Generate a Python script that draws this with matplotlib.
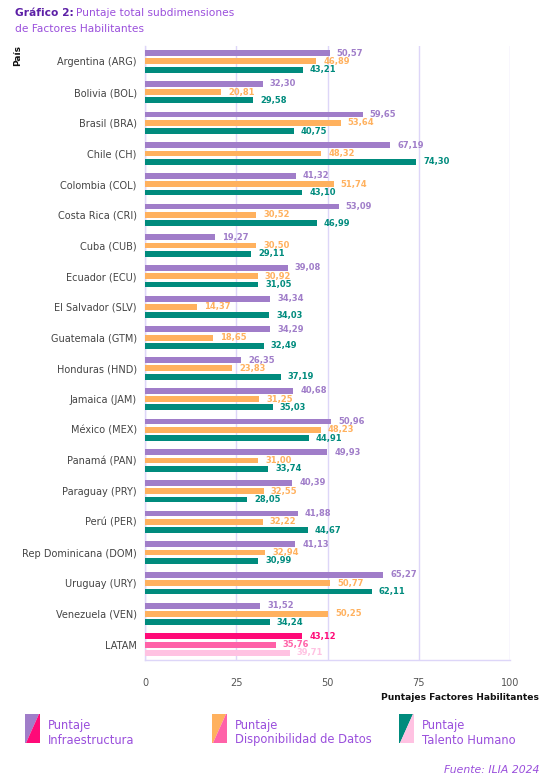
import matplotlib
matplotlib.use('Agg')
import matplotlib.pyplot as plt
from matplotlib.patches import Polygon

# данные графика
paises = ['Argentina (ARG)', 'Bolivia (BOL)', 'Brasil (BRA)', 'Chile (CH)', 'Colombia (COL)',
          'Costa Rica (CRI)', 'Cuba (CUB)', 'Ecuador (ECU)', 'El Salvador (SLV)', 'Guatemala (GTM)',
          'Honduras (HND)', 'Jamaica (JAM)', 'México (MEX)', 'Panamá (PAN)', 'Paraguay (PRY)',
          'Perú (PER)', 'Rep Dominicana (DOM)', 'Uruguay (URY)', 'Venezuela (VEN)', 'LATAM']
infraestructura = [50.57, 32.30, 59.65, 67.19, 41.32, 53.09, 19.27, 39.08, 34.34, 34.29,
                   26.35, 40.68, 50.96, 49.93, 40.39, 41.88, 41.13, 65.27, 31.52, 43.12]
datos = [46.89, 20.81, 53.64, 48.32, 51.74, 30.52, 30.50, 30.92, 14.37, 18.65,
         23.83, 31.25, 48.23, 31.00, 32.55, 32.22, 32.94, 50.77, 50.25, 35.76]
talento = [43.21, 29.58, 40.75, 74.30, 43.10, 46.99, 29.11, 31.05, 34.03, 32.49,
           37.19, 35.03, 44.91, 33.74, 28.05, 44.67, 30.99, 62.11, 34.24, 39.71]
xticks = [0, 25, 50, 75, 100]
series = ['Infraestructura', 'Disponibilidad de Datos', 'Talento Humano']

# цвета
colores = ['#a07dc9', '#ffb15e', '#008b7d']
colores_latam = ['#ff0a78', '#ff62a8', '#ffc2e2']
color_grid = '#ddd6f8'
color_morado = '#9a4fdc'

W, H = 553, 778
fig = plt.figure(figsize=(W / 100, H / 100), dpi=100)
ax = fig.add_axes([145 / W, 1 - 660 / H, 365 / W, 614 / H])

offsets = [-0.27, 0, 0.27]
alto = 0.19
valores = [infraestructura, datos, talento]
for s in range(3):
    for i, v in enumerate(valores[s]):
        c = colores_latam[s] if paises[i] == 'LATAM' else colores[s]
        ax.barh(i + offsets[s], v, height=alto, color=c, zorder=3)
        ax.annotate(f'{v:.2f}'.replace('.', ','), xy=(v, i + offsets[s]), xytext=(5, 0),
                    textcoords='offset points', va='center', ha='left',
                    fontsize=6, fontweight='bold', color=c, zorder=4)

ax.set_xlim(0, 100)
ax.set_ylim(19.5, -0.5)
ax.set_yticks(range(len(paises)))
ax.set_yticklabels(paises, fontsize=7, color='#444444')
ax.set_xticks(xticks)
ax.set_xticklabels([str(t) for t in xticks], fontsize=7, color='#555555')
ax.tick_params(axis='both', length=0)
ax.tick_params(axis='y', pad=6)
ax.tick_params(axis='x', pad=13)
ax.grid(axis='x', color=color_grid, linewidth=1, zorder=0)
for lado in ['top', 'right']:
    ax.spines[lado].set_visible(False)
for lado in ['left', 'bottom']:
    ax.spines[lado].set_color(color_grid)
    ax.spines[lado].set_linewidth(1)

# título en dos partes
t1 = fig.text(15 / W, 1 - 12.5 / H, 'Gráfico 2:', fontsize=7.7, fontweight='bold',
              color='#5c1fa6', va='center')
fig.canvas.draw()
bb = t1.get_window_extent()
fig.text(bb.x1 / W + 0.004, 1 - 12.5 / H, 'Puntaje total subdimensiones', fontsize=7.7,
         color=color_morado, va='center')
fig.text(15 / W, 1 - 29 / H, 'de Factores Habilitantes', fontsize=7.7,
         color=color_morado, va='center')

fig.text(18 / W, 1 - 55 / H, 'País', rotation=90, fontsize=6.5, fontweight='bold',
         color='#111111', ha='center', va='center')
fig.text(539 / W, 1 - 698 / H, 'Puntajes Factores Habilitantes', fontsize=6.6,
         fontweight='bold', color='#111111', ha='right', va='center')

# leyenda con cuadrados divididos en diagonal
for k in range(3):
    x0 = 25 + 187 * k
    x1 = x0 + 15
    y0, y1 = 714, 743
    arriba = [(x0, y0), (x1 - 1, y0), (x0 + 1, y1), (x0, y1)]
    abajo = [(x1 - 1, y0), (x1, y0), (x1, y1), (x0 + 1, y1)]
    for pts, c in [(arriba, colores[k]), (abajo, colores_latam[k])]:
        fig.add_artist(Polygon([(px / W, 1 - py / H) for px, py in pts], closed=True,
                               facecolor=c, edgecolor='none', transform=fig.transFigure))
    fig.text((x1 + 8) / W, 1 - 725 / H, 'Puntaje', fontsize=8.3, color=color_morado, va='center')
    fig.text((x1 + 8) / W, 1 - 740 / H, series[k], fontsize=8.3, color=color_morado, va='center')

fig.text(539 / W, 1 - 770 / H, 'Fuente: ILIA 2024', fontsize=7.8, style='italic',
         color=color_morado, ha='right', va='center')

fig.savefig('out.png', dpi=100)
